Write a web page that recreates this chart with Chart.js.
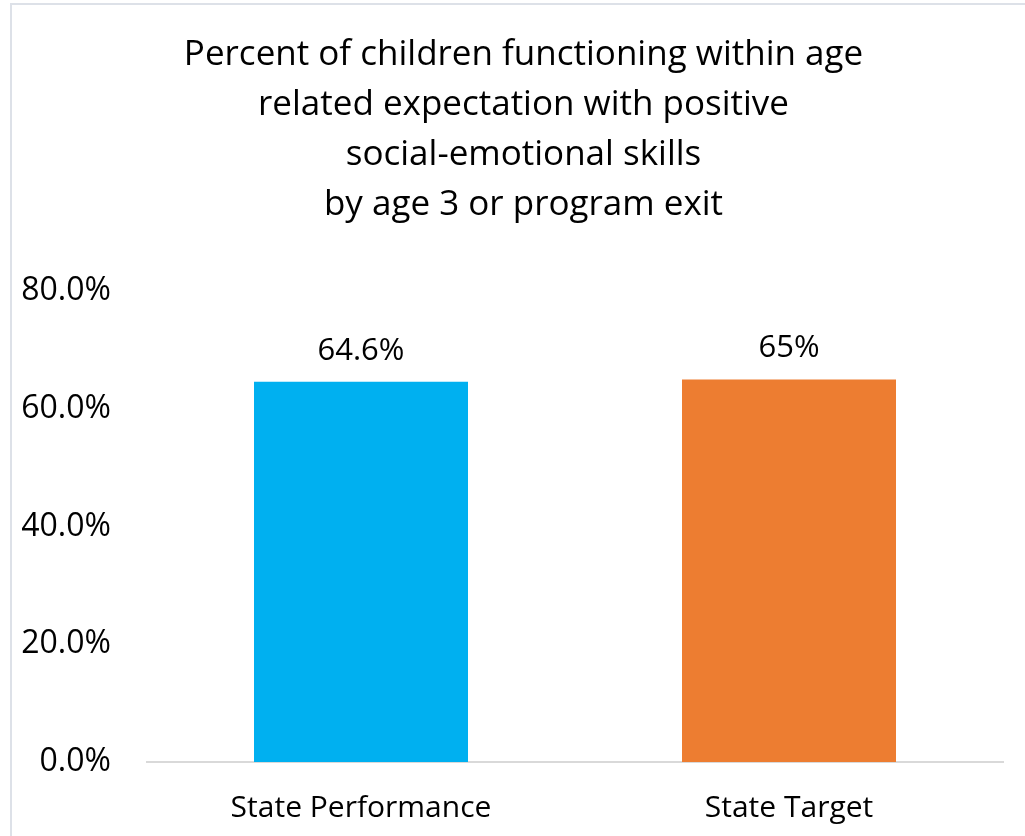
<!DOCTYPE html>
<html lang="en">
<head>
  <meta charset="UTF-8">
  <script src="https://cdn.jsdelivr.net/npm/chart.js"></script>
  <title>Social-emotional skills</title>
  <style>
    html, body { margin: 0; padding: 0; background: #fff; }
    .frame {
      position: absolute; left: 10px; top: 3px; width: 1030px; height: 850px;
      border-top: 2px solid #dde1e8; border-left: 2px solid #dde1e8;
      box-sizing: border-box;
    }
    .chart-container { position: absolute; left: 0; top: 0; width: 1025px; height: 836px; }
  </style>
</head>
<body>
  <div class="frame"></div>
  <div class="chart-container">
    <canvas id="skillsChart"></canvas>
  </div>
  <script>
    // data
    const categories = ['State Performance', 'State Target'];
    const values = [64.6, 65];
    const valueLabels = ['64.6%', '65%'];
    const barColors = ['#00B0F0', '#ED7D31'];
    const titleLines = [
      'Percent of children functioning within age',
      'related expectation with positive',
      'social-emotional skills',
      'by age 3 or program exit'
    ];

    const fontFamily = '"Open Sans", "Noto Sans", sans-serif';

    // labels above bars
    const barLabels = {
      id: 'barLabels',
      afterDatasetsDraw(chart) {
        const ctx = chart.ctx;
        const meta = chart.getDatasetMeta(0);
        ctx.save();
        ctx.font = '31px ' + fontFamily;
        ctx.fillStyle = '#000';
        ctx.textAlign = 'center';
        ctx.textBaseline = 'middle';
        meta.data.forEach((bar, i) => {
          ctx.fillText(valueLabels[i], bar.x, bar.y - 31);
        });
        ctx.restore();
      }
    };

    window.onload = function() {
      const ctx = document.getElementById('skillsChart').getContext('2d');
      new Chart(ctx, {
        type: 'bar',
        data: {
          labels: categories,
          datasets: [{
            data: values,
            backgroundColor: barColors,
            barPercentage: 0.5,
            categoryPercentage: 1.0
          }]
        },
        options: {
          responsive: true,
          maintainAspectRatio: false,
          animation: false,
          // title sits a little right of centre in the original
          layout: { padding: { left: 22, right: 0, top: 0, bottom: 0 } },
          plugins: {
            legend: { display: false },
            tooltip: { enabled: false },
            title: {
              display: true,
              text: titleLines,
              color: '#000',
              font: { family: fontFamily, size: 35, weight: 'normal', lineHeight: 1.43 },
              padding: { top: 30, bottom: 61 }
            }
          },
          scales: {
            x: {
              grid: { display: false },
              border: { display: true, color: '#d9d9d9', width: 2 },
              ticks: { color: '#000', font: { family: fontFamily, size: 30 }, padding: 20 },
              afterFit: scale => { scale.height = 74; }
            },
            y: {
              min: 0,
              max: 80,
              grid: { display: false },
              border: { display: false },
              ticks: {
                stepSize: 20,
                color: '#000',
                padding: 28,
                font: { family: fontFamily, size: 32 },
                callback: v => v.toFixed(1) + '%'
              },
              afterFit: scale => { scale.width = 125; }
            },
            yRight: {
              position: 'right',
              min: 0,
              max: 80,
              grid: { display: false },
              border: { display: false },
              ticks: { display: false },
              afterFit: scale => { scale.width = 22; }
            }
          }
        },
        plugins: [barLabels]
      });
    };
  </script>
</body>
</html>
